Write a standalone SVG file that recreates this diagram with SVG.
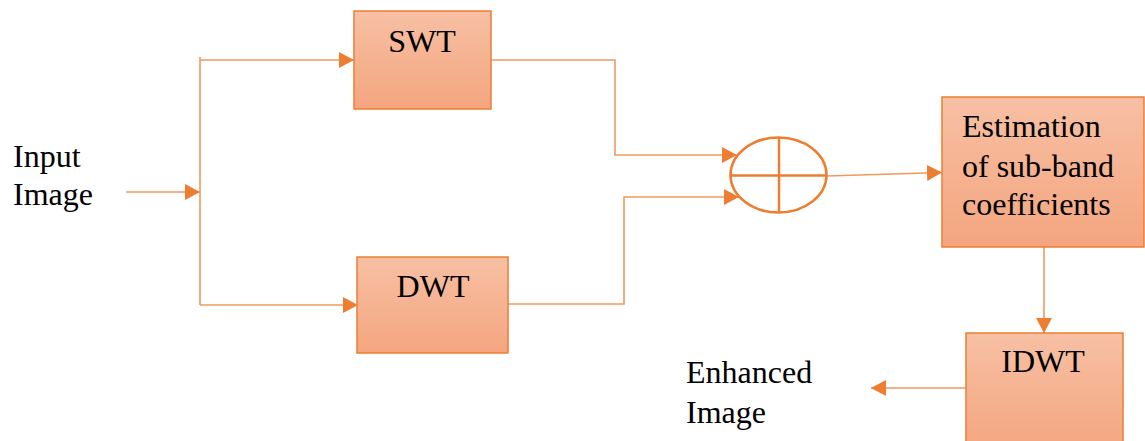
<svg xmlns="http://www.w3.org/2000/svg" width="1145" height="441" viewBox="0 0 1145 441">
  <defs>
    <linearGradient id="boxFill" x1="0" y1="0" x2="0" y2="1">
      <stop offset="0" stop-color="#F7C0A4"/>
      <stop offset="1" stop-color="#F4A57F"/>
    </linearGradient>
    <marker id="arrow" viewBox="0 0 15 16" refX="15" refY="8" markerWidth="15" markerHeight="16" markerUnits="userSpaceOnUse" orient="auto">
      <path d="M0,0 L15,8 L0,16 Z" fill="#ED7D31"/>
    </marker>
    <style>
      .box { fill: url(#boxFill); stroke: #ED7D31; stroke-width: 1.5; }
      .wire { fill: none; stroke: #F09A5E; stroke-width: 1.6; }
      .arr { marker-end: url(#arrow); }
      .sum { fill: none; stroke: #ED7D31; stroke-width: 2.5; }
      .lbl { font-family: "Liberation Serif", "Times New Roman", serif; font-size: 32px; fill: #000; }
      .mid { text-anchor: middle; }
    </style>
  </defs>

  <rect width="1145" height="441" fill="#FFFFFF"/>

  <!-- connectors -->
  <g id="connectors">
    <line class="wire arr" x1="126" y1="192" x2="200" y2="192"/>
    <line class="wire" x1="200" y1="57" x2="200" y2="305"/>
    <line class="wire arr" x1="200" y1="60" x2="354" y2="60"/>
    <line class="wire arr" x1="200" y1="305" x2="358" y2="305"/>
    <polyline class="wire arr" points="491,60 615,60 615,155 737,155"/>
    <polyline class="wire arr" points="508,304 624,304 624,197 739,197"/>
    <line class="wire arr" x1="827" y1="176" x2="942" y2="172.5"/>
    <line class="wire arr" x1="1044" y1="247" x2="1044" y2="333"/>
    <line class="wire arr" x1="966" y1="388" x2="871" y2="388"/>
  </g>

  <!-- input / output labels -->
  <g id="input">
    <text class="lbl" x="13" y="167">Input</text>
    <text class="lbl" x="13" y="205">Image</text>
  </g>
  <g id="output">
    <text class="lbl" x="686" y="383">Enhanced</text>
    <text class="lbl" x="686" y="423">Image</text>
  </g>

  <!-- processing blocks -->
  <g id="swt">
    <rect class="box" x="354" y="11" width="137" height="98"/>
    <text class="lbl mid" x="422" y="52">SWT</text>
  </g>
  <g id="dwt">
    <rect class="box" x="357" y="257" width="151" height="96"/>
    <text class="lbl mid" x="433" y="297">DWT</text>
  </g>
  <g id="sum">
    <ellipse class="sum" cx="778.5" cy="175" rx="48" ry="37.5"/>
    <line class="sum" x1="779" y1="137.5" x2="779" y2="212.5"/>
    <line class="sum" x1="730.5" y1="175.5" x2="826.5" y2="175.5"/>
  </g>
  <g id="estimation">
    <rect class="box" x="942" y="97" width="202" height="150"/>
    <text class="lbl" x="962" y="137">Estimation</text>
    <text class="lbl" x="962" y="177">of sub-band</text>
    <text class="lbl" x="962" y="215">coefficients</text>
  </g>
  <g id="idwt">
    <rect class="box" x="966" y="333" width="157" height="120"/>
    <text class="lbl mid" x="1043" y="372">IDWT</text>
  </g>
</svg>
